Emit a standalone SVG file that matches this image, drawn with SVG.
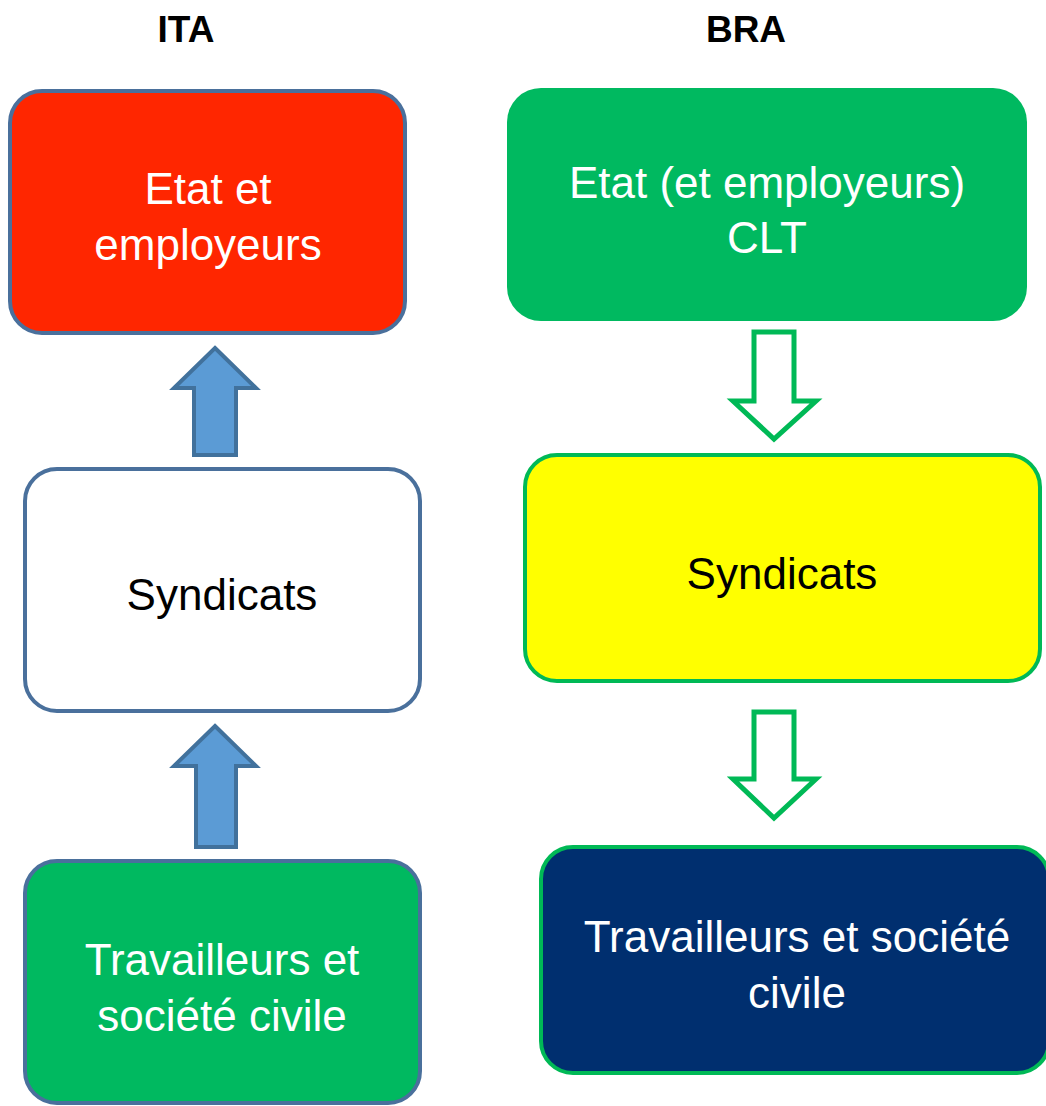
<svg xmlns="http://www.w3.org/2000/svg" width="1046" height="1106" viewBox="0 0 1046 1106">
<style>
.t{font-family:"Liberation Sans",Arial,sans-serif;font-size:44px;text-anchor:middle}
.h{font-family:"Liberation Sans",Arial,sans-serif;font-size:37px;font-weight:bold;text-anchor:middle;fill:#000}
.w{fill:#fff}
.k{fill:#000}
.bs{stroke:#4A709C;stroke-width:4}
.gs{stroke:#00B956;stroke-width:4}
.ua{fill:#5B9BD5;stroke:#41719C;stroke-width:4;stroke-linejoin:miter}
.da{fill:#fff;stroke:#00B956;stroke-width:5;stroke-linejoin:miter}
</style>
<rect width="1046" height="1106" fill="#fff"/>
<text class="h" x="186" y="42">ITA</text>
<text class="h" x="746" y="42">BRA</text>
<g id="ita-etat">
<rect class="bs" x="10" y="91" width="395" height="242" rx="32" fill="#FF2600"/>
<text class="t w" x="208" y="204">Etat et</text>
<text class="t w" x="208" y="260">employeurs</text>
</g>
<g id="ita-syndicats">
<rect class="bs" x="25" y="469" width="395" height="242" rx="32" fill="#fff"/>
<text class="t k" x="222" y="610">Syndicats</text>
</g>
<g id="ita-travailleurs">
<rect class="bs" x="25" y="861" width="395" height="242" rx="32" fill="#00B960"/>
<text class="t w" x="222" y="975">Travailleurs et</text>
<text class="t w" x="222" y="1031">société civile</text>
</g>
<g id="bra-etat">
<rect x="507" y="88" width="520" height="233" rx="34" fill="#00B960"/>
<text class="t w" x="767" y="198">Etat (et employeurs)</text>
<text class="t w" x="767" y="253">CLT</text>
</g>
<g id="bra-syndicats">
<rect class="gs" x="525" y="455" width="515" height="226" rx="32" fill="#FFFF00"/>
<text class="t k" x="782" y="589">Syndicats</text>
</g>
<g id="bra-travailleurs">
<rect class="gs" x="541" y="847" width="508" height="226" rx="32" fill="#002F6F"/>
<text class="t w" x="797" y="952">Travailleurs et société</text>
<text class="t w" x="797" y="1008">civile</text>
</g>
<g id="connectors">
<polygon class="ua" points="215,348 256,388 236,388 236,455 194,455 194,388 174,388"/>
<polygon class="ua" points="215,726 256,766 236,766 236,847 196,847 196,766 174,766"/>
<polygon class="da" points="754,332 794,332 794,401 816,401 774,439 733,401 754,401"/>
<polygon class="da" points="754,712 794,712 794,779 816,779 774,818 733,779 754,779"/>
</g>
</svg>
